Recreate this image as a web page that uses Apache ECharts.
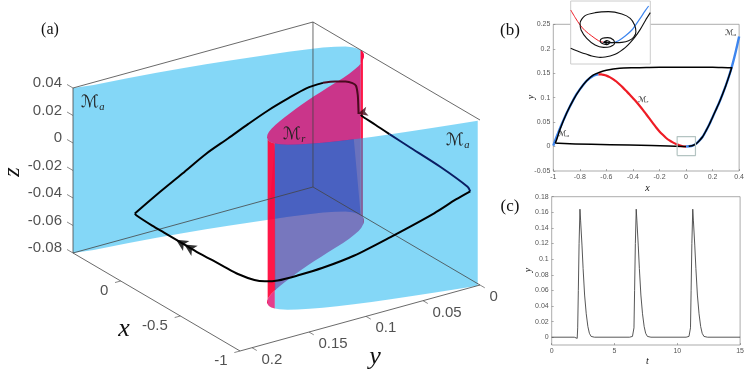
<!DOCTYPE html>
<html>
<head>
<meta charset="utf-8">
<script src="https://cdn.jsdelivr.net/npm/echarts@6/dist/echarts.min.js"></script>
<style>
html, body { margin: 0; padding: 0; background: #fff; }
#main { width: 747px; height: 373px; }
</style>
</head>
<body>
<div id="main"></div>
<script>
// critical manifold y = f(x)
var manX = [-1, -0.975, -0.95, -0.925, -0.9, -0.875, -0.85, -0.825, -0.8, -0.775, -0.75, -0.725, -0.7, -0.68, -0.66, -0.64, -0.62, -0.6, -0.575, -0.55, -0.525, -0.5, -0.475, -0.45, -0.425, -0.4, -0.375, -0.35, -0.325, -0.3, -0.275, -0.25, -0.225, -0.2, -0.175, -0.15, -0.125, -0.1, -0.075, -0.05, -0.025, 0, 0.025, 0.05, 0.075, 0.1, 0.125, 0.15, 0.175, 0.2, 0.225, 0.25, 0.275, 0.3, 0.325, 0.35, 0.375, 0.4];
var manY = [0.002, 0.02, 0.037, 0.053, 0.068, 0.082, 0.095, 0.107, 0.117, 0.126, 0.134, 0.14, 0.1445, 0.1465, 0.1475, 0.1475, 0.1465, 0.145, 0.142, 0.138, 0.133, 0.127, 0.1205, 0.1135, 0.1065, 0.099, 0.0915, 0.0835, 0.075, 0.066, 0.057, 0.048, 0.039, 0.031, 0.024, 0.0175, 0.0125, 0.0085, 0.005, 0.0025, 0.0007, 0, 0.0005, 0.002, 0.0055, 0.012, 0.02, 0.032, 0.045, 0.06, 0.075, 0.09, 0.107, 0.125, 0.145, 0.168, 0.195, 0.225];

// trajectory (x, y, z)
var trajX = [0, -0.03, -0.132, -0.26, -0.427, -0.7125, -0.958, -0.985, -0.97, -0.95, -0.9, -0.85, -0.8, -0.75, -0.7, -0.65, -0.6, -0.5, -0.4, -0.3, -0.2, -0.1, 0, 0.1, 0.2, 0.34, 0.345, 0.325, 0.3, 0.275, 0.25, 0.225, 0.2, 0.175, 0.15, 0.125, 0.1, 0.075, 0.05, 0.03, 0.02, 0.017, 0.015];
var trajY = [0, 0.0003, 0.001, 0.002, 0.003, 0.0045, 0.0065, 0.007, 0.018, 0.035, 0.068, 0.095, 0.117, 0.134, 0.146, 0.152, 0.156, 0.16, 0.161, 0.1615, 0.162, 0.162, 0.162, 0.162, 0.162, 0.161, 0.162, 0.145, 0.125, 0.107, 0.09, 0.075, 0.06, 0.045, 0.032, 0.02, 0.012, 0.0055, 0.002, 0.001, 0.0005, 0.0004, 0.0003];
var trajZ = [-0.0073, -0.0075, -0.0074, -0.0075, -0.0076, -0.0078, -0.0092, -0.011, -0.0152, -0.0224, -0.0347, -0.0447, -0.051, -0.0553, -0.0587, -0.0605, -0.0612, -0.061, -0.0608, -0.0608, -0.061, -0.061, -0.061, -0.061, -0.061, -0.061, -0.0595, -0.0487, -0.0366, -0.0252, -0.0164, -0.0081, -0.0003, 0.0063, 0.0118, 0.0143, 0.0148, 0.0145, 0.0138, 0.0127, 0.0064, 0.0004, -0.0073];

// 3d axis limits and ticks
var xLim = [-1, 0.4], yLim = [0, 0.2105], zLim = [-0.08, 0.04];
var xTicks3d = [0, -0.5, -1];
var yTicks3d = [0, 0.05, 0.1, 0.15, 0.2];
var zTicks3d = [0.04, 0.02, 0, -0.02, -0.04, -0.06, -0.08];
var arrowsX = [0, -0.07], arrowsY = [0.162, 0.162], arrowsZ = [-0.061, -0.061];
var spiralArrow = [0.02, 0.0005, -0.0073];

// inset of panel (b), relative to the fixed point
var insetRedX = [-98, -85, -70, -55, -35, -15, 0];
var insetRedY = [97, 75, 52, 35, 19, 5, 0];
var insetBlueX = [0, 25, 45, 65, 85, 105, 125, 135];
var insetBlueY = [0, -1, 5, 19, 37, 65, 95, 109];
var insetPassX = [-98, -80, -65, -50, -35, -20, -10, 5, 20, 35, 50, 65, 80, 95, 110, 125, 140];
var insetPassY = [-18, -25, -31, -36, -41, -44, -45, -44, -41, -36, -27, -16, -1, 17, 39, 65, 89];
var insetLoopX = [0, 10, 20, 10, -5, -10, -3, 13, 30, 33, 20, 0, -25, -50, -67, -70, -55, -25, 15, 55, 80, 93, 97, 90, 75, 55, 35, 20, 10, 0];
var insetLoopY = [0, 5, 0, -7, -3, 4, 12, 14, 7, -3, -13, -15, -8, 12, 37, 57, 80, 89, 92, 85, 72, 52, 32, 15, 5, 0, -1, -1, -1, 0];

// zoom box in panel (b)
var boxX = [-0.067, 0.071, 0.071, -0.067, -0.067];
var boxY = [-0.0185, -0.0185, 0.0205, 0.0205, -0.0185];

// panel (c)
var timeC = [0, 1.8, 1.95, 2.03, 2.07, 2.12, 2.18, 2.25, 2.3, 2.41, 2.5, 2.62, 2.75, 2.88, 3, 3.14, 3.4,
    6.2, 6.43, 6.51, 6.55, 6.6, 6.66, 6.73, 6.78, 6.89, 6.98, 7.1, 7.23, 7.36, 7.48, 7.62, 7.9,
    10.7, 10.93, 11.01, 11.05, 11.1, 11.16, 11.23, 11.28, 11.39, 11.48, 11.6, 11.73, 11.86, 11.98, 12.12, 12.4, 15];
var yC = [0, 0, 0.001, -0.0015, 0.012, 0.06, 0.12, 0.164, 0.15, 0.118, 0.088, 0.054, 0.03, 0.0137, 0.005, 0.001, 0,
    0, 0.001, -0.0015, 0.012, 0.06, 0.12, 0.164, 0.15, 0.118, 0.088, 0.054, 0.03, 0.0137, 0.005, 0.001, 0,
    0, 0.001, -0.0015, 0.012, 0.06, 0.12, 0.164, 0.15, 0.118, 0.088, 0.054, 0.03, 0.0137, 0.005, 0.001, 0, 0];
var yTicksC = [0, 0.02, 0.04, 0.06, 0.08, 0.1, 0.12, 0.14, 0.16, 0.18];

// orthographic view of panel (a), onto the hidden full page axes
function project3d(x, y, z) {
    return [
        480 - 119.3 * (x + 1) - 1140 * y,
        285 - 70 * (x + 1) + 313.5 * y - 1375 * (z + 0.08)
    ];
}

function pairs(a, b) {
    return a.map(function (v, i) { return [v, b[i]]; });
}

// part of the manifold with x0 <= x <= x1
function manPart(x0, x1) {
    var out = [];
    for (var i = 0; i < manX.length; i++) {
        if (manX[i] >= x0 && manX[i] <= x1) out.push([manX[i], manY[i]]);
    }
    return out;
}

function polygon3d(points, fill) {
    return {
        type: 'custom',
        coordinateSystem: 'cartesian2d',
        xAxisIndex: 0,
        yAxisIndex: 0,
        silent: true,
        clip: false,
        data: [[0, 0]],
        renderItem: function (params, api) {
            var pts = points.map(function (p) { return api.coord(project3d(p[0], p[1], p[2])); });
            return { type: 'polygon', shape: { points: pts }, style: { fill: fill } };
        }
    };
}

// sheet between the z limits, cut at the y limit of the box
function sheet(x0, x1, fill) {
    var part = manPart(x0, x1);
    var pts = [];
    part.forEach(function (p) { pts.push([p[0], Math.min(p[1], yLim[1]), zLim[1]]); });
    part.slice().reverse().forEach(function (p) { pts.push([p[0], Math.min(p[1], yLim[1]), zLim[0]]); });
    return polygon3d(pts, fill);
}

// where both blue sheets and the red one overlap
function overlapPatch(fill) {
    var pts = [];
    manPart(-0.86, -0.68).reverse().forEach(function (p) { pts.push([p[0], p[1], zLim[1]]); });
    manPart(0, 0.2).forEach(function (p) { pts.push([p[0], p[1], zLim[0]]); });
    return polygon3d(pts, fill);
}

// where the red sheet lies twice over itself at its left fold
function foldPatch(fill) {
    var pts = [];
    manPart(-0.681, -0.619).forEach(function (p) { pts.push([p[0], p[1], zLim[1]]); });
    manPart(-0.621, -0.499).forEach(function (p) { pts.push([p[0], p[1], zLim[0]]); });
    return polygon3d(pts, fill);
}

function line3d(points, color, width, smooth) {
    return {
        type: 'line',
        xAxisIndex: 0,
        yAxisIndex: 0,
        data: points.map(function (p) { return project3d(p[0], p[1], p[2]); }),
        symbol: 'none',
        silent: true,
        smooth: smooth || false,
        lineStyle: { color: color, width: width, join: 'round' }
    };
}

function trajPart(i0, i1, color) {
    var pts = [];
    for (var i = i0; i <= i1; i++) pts.push([trajX[i], trajY[i], trajZ[i]]);
    return line3d(pts, color, 2, 0.3);
}

// tick marks and tick labels of the 3d box
function tickMarks(list) {
    return list.map(function (t) { return line3d(t, '#555', 0.7); });
}

function tickLabels(points, texts, dx, dy, align) {
    return {
        type: 'scatter',
        xAxisIndex: 0,
        yAxisIndex: 0,
        symbolSize: 0,
        silent: true,
        data: points.map(function (p, i) {
            var c = project3d(p[0], p[1], p[2]);
            return [c[0], c[1], texts[i]];
        }),
        label: {
            show: true,
            position: [dx, dy],
            align: align,
            verticalAlign: 'middle',
            fontFamily: 'Liberation Sans',
            fontSize: 15,
            color: '#262626',
            formatter: function (p) { return p.value[2]; }
        }
    };
}

function axisStyle(gridIdx, min, max, extra) {
    var a = {
        type: 'value',
        gridIndex: gridIdx,
        min: min,
        max: max,
        splitLine: { show: false },
        axisLine: { show: false, onZero: false },
        axisTick: { show: true, inside: true, length: 2, lineStyle: { color: '#777', width: 0.6 } },
        axisLabel: { fontFamily: 'Liberation Sans', fontSize: 7, color: '#555', margin: 3 }
    };
    for (var k in extra) a[k] = extra[k];
    return a;
}

function mathLabel(x, y, sub, size) {
    return {
        type: 'text',
        x: x,
        y: y,
        z: 30,
        style: {
            text: '{m|ℳ}{s|' + sub + '}',
            rich: {
                m: { fontFamily: 'DejaVu Sans', fontSize: size, fill: '#222', lineHeight: size * 1.2 },
                s: { fontFamily: 'Liberation Serif', fontStyle: 'italic', fontSize: size * 0.62, fill: '#222', verticalAlign: 'bottom', lineHeight: size * 1.05 }
            }
        }
    };
}

function plainLabel(x, y, text, size, italic, rotation) {
    return {
        type: 'text',
        x: x,
        y: y,
        z: 30,
        rotation: rotation || 0,
        style: {
            text: text,
            fontFamily: 'Liberation Serif',
            fontStyle: italic ? 'italic' : 'normal',
            fontSize: size,
            fill: '#111',
            textAlign: 'center',
            textVerticalAlign: 'middle'
        }
    };
}

var blueSheet = 'rgba(9,175,239,0.5)';
var redSheet = 'rgba(222,8,108,0.78)';
var redFold = 'rgba(255,8,60,0.94)';

var series = [];

// back edges of the box, drawn under the translucent sheets
var boxEdges = [
    [[xLim[1], yLim[1], zLim[0]], [xLim[1], yLim[0], zLim[0]], [xLim[0], yLim[0], zLim[0]]],
    [[xLim[1], yLim[0], zLim[0]], [xLim[1], yLim[0], zLim[1]]],
    [[xLim[1], yLim[1], zLim[1]], [xLim[1], yLim[0], zLim[1]], [xLim[0], yLim[0], zLim[1]]],
    [[xLim[1], yLim[1], zLim[1]], [xLim[1], yLim[1], zLim[0]]],
    [[xLim[1], yLim[1], zLim[0]], [xLim[0], yLim[1], zLim[0]], [xLim[0], yLim[0], zLim[0]]]
];
boxEdges.forEach(function (e) { series.push(line3d(e, '#444', 0.8)); });

var zTickLines = zTicks3d.map(function (z) { return [[xLim[1], yLim[1], z], [xLim[1] + 0.05, yLim[1], z]]; });
var xTickLines = xTicks3d.map(function (x) { return [[x, yLim[1], zLim[0]], [x, yLim[1] + 0.005, zLim[0]]]; });
var yTickLines = yTicks3d.map(function (y) { return [[xLim[0], y, zLim[0]], [xLim[0] - 0.04, y, zLim[0]]]; });
series = series.concat(tickMarks(zTickLines), tickMarks(xTickLines), tickMarks(yTickLines));

series.push(sheet(-0.0001, 0.4, blueSheet));
series.push(sheet(-0.681, 0.0001, redSheet));
series.push(overlapPatch('rgba(100,0,150,0.65)'));
series.push(foldPatch(redFold));
series.push(sheet(-0.101, 0.0001, redFold));
series.push(sheet(-1, -0.679, blueSheet));

// trajectory, tinted where a sheet lies over it
series.push(trajPart(0, 3, '#000'));
series.push(trajPart(3, 7, '#0a1d63'));
series.push(trajPart(7, 26, '#000'));
series.push(trajPart(26, 35, '#000'));
series.push(trajPart(35, 42, '#4a0a1e'));

series.push({
    type: 'scatter',
    xAxisIndex: 0,
    yAxisIndex: 0,
    symbol: 'arrow',
    symbolSize: [9, 12],
    symbolRotate: 58,
    silent: true,
    itemStyle: { color: '#000' },
    data: arrowsX.map(function (x, i) { return project3d(x, arrowsY[i], arrowsZ[i]); })
});
series.push({
    type: 'scatter',
    xAxisIndex: 0,
    yAxisIndex: 0,
    symbol: 'arrow',
    symbolSize: [7, 10],
    symbolRotate: 105,
    silent: true,
    itemStyle: { color: '#3a0715' },
    data: [project3d(spiralArrow[0], spiralArrow[1], spiralArrow[2])]
});

series.push(tickLabels(zTicks3d.map(function (z) { return [xLim[1], yLim[1], z]; }), zTicks3d.map(String), -11, -5, 'right'));
series.push(tickLabels(xTicks3d.map(function (x) { return [x, yLim[1], zLim[0]]; }), xTicks3d.map(String), -12.5, 10, 'right'));
series.push(tickLabels(yTicks3d.map(function (y) { return [xLim[0], y, zLim[0]]; }), yTicks3d.map(String), 9.5, 12, 'left'));

// panel (b)
function lineB(data, color, width, z) {
    return {
        type: 'line', xAxisIndex: 1, yAxisIndex: 1, data: data, symbol: 'none', silent: true, z: z, smooth: 0.2,
        lineStyle: { color: color, width: width, join: 'round' }
    };
}
series.push(lineB(manPart(-1, -0.66), '#3d85ee', 2.4, 3));
series.push(lineB(manPart(0, 0.4), '#3d85ee', 2.4, 3));
series.push(lineB(manPart(-0.66, 0), '#ee1c25', 2.2, 3));
var trajPairs = pairs(trajX, trajY);
series.push(lineB(trajPairs.slice(0, 8), '#000', 1.5, 4));
series.push(lineB(trajPairs.slice(7, 27), '#000', 1.5, 4));
series.push(lineB(trajPairs.slice(26), '#000', 1.5, 4));
series.push({
    type: 'line', xAxisIndex: 1, yAxisIndex: 1, data: pairs(boxX, boxY), symbol: 'none', silent: true, z: 5,
    lineStyle: { color: '#b4c4c2', width: 1.2 }
});

// inset
function lineInset(xs, ys, color, width) {
    return {
        type: 'line', xAxisIndex: 2, yAxisIndex: 2, data: pairs(xs, ys), symbol: 'none', silent: true, z: 6, smooth: 0.3,
        lineStyle: { color: color, width: width }
    };
}
series.push(lineInset(insetRedX, insetRedY, '#ee1c25', 1));
series.push(lineInset(insetBlueX, insetBlueY, '#3d85ee', 1.2));
series.push(lineInset(insetPassX, insetPassY, '#111', 1.1));
series.push(lineInset(insetLoopX, insetLoopY, '#111', 1.1));
series.push({
    type: 'scatter', xAxisIndex: 2, yAxisIndex: 2, data: [[0, 0]], symbol: 'arrow', symbolSize: [4, 4], symbolRotate: 90, silent: true, z: 7,
    itemStyle: { color: '#000' }
});

// panel (c)
series.push({
    type: 'line', xAxisIndex: 3, yAxisIndex: 3, data: pairs(timeC, yC), symbol: 'none', silent: true,
    lineStyle: { color: '#444', width: 0.9 }
});

var option = {
    animation: false,
    backgroundColor: '#fff',
    grid: [
        { left: 0, top: 0, width: 747, height: 373 },
        { left: 553.3, top: 24.3, width: 188.7, height: 146.7, show: true, borderColor: '#888', borderWidth: 0.7, backgroundColor: 'transparent' },
        { left: 570.7, top: 1, width: 79.6, height: 63, show: true, z: 5, borderColor: '#ccc', borderWidth: 1, backgroundColor: '#fff' },
        { left: 551.7, top: 196.7, width: 191, height: 148.3, show: true, borderColor: '#888', borderWidth: 0.7, backgroundColor: 'transparent' }
    ],
    xAxis: [
        { type: 'value', gridIndex: 0, min: 0, max: 747, show: false },
        axisStyle(1, -1, 0.4, { interval: 0.2 }),
        { type: 'value', gridIndex: 2, min: -98, max: 140, show: false },
        axisStyle(3, 0, 15, { interval: 5 })
    ],
    yAxis: [
        { type: 'value', gridIndex: 0, min: 0, max: 373, inverse: true, show: false },
        axisStyle(1, -0.05, 0.25, { interval: 0.05 }),
        { type: 'value', gridIndex: 2, min: -65, max: 124, show: false },
        (function () {
            var a = axisStyle(3, -0.01, 0.18, {});
            a.axisTick.customValues = yTicksC;
            a.axisLabel.customValues = yTicksC;
            return a;
        })()
    ],
    graphic: { elements: [
        plainLabel(50, 30, '(a)', 16),
        plainLabel(510, 31, '(b)', 17),
        plainLabel(510, 207, '(c)', 17),
        plainLabel(13, 172, 'z', 24, true, Math.PI / 2),
        plainLabel(124, 329, 'x', 26, true),
        plainLabel(375, 357, 'y', 26, true),
        plainLabel(647.5, 188, 'x', 10, true),
        plainLabel(531, 97, 'y', 10, true, Math.PI / 2),
        plainLabel(647.5, 361, 't', 10, true),
        plainLabel(528, 270, 'y', 10, true, Math.PI / 2),
        mathLabel(81, 92, 'a', 17),
        mathLabel(283, 124, 'r', 17),
        mathLabel(446, 130, 'a', 17),
        mathLabel(725, 28, 'a', 8),
        mathLabel(638, 95, 'r', 8),
        mathLabel(558, 129, 'a', 8)
    ] },
    series: series
};

var myChart = echarts.init(document.getElementById('main'));
myChart.setOption(option);
</script>
</body>
</html>
